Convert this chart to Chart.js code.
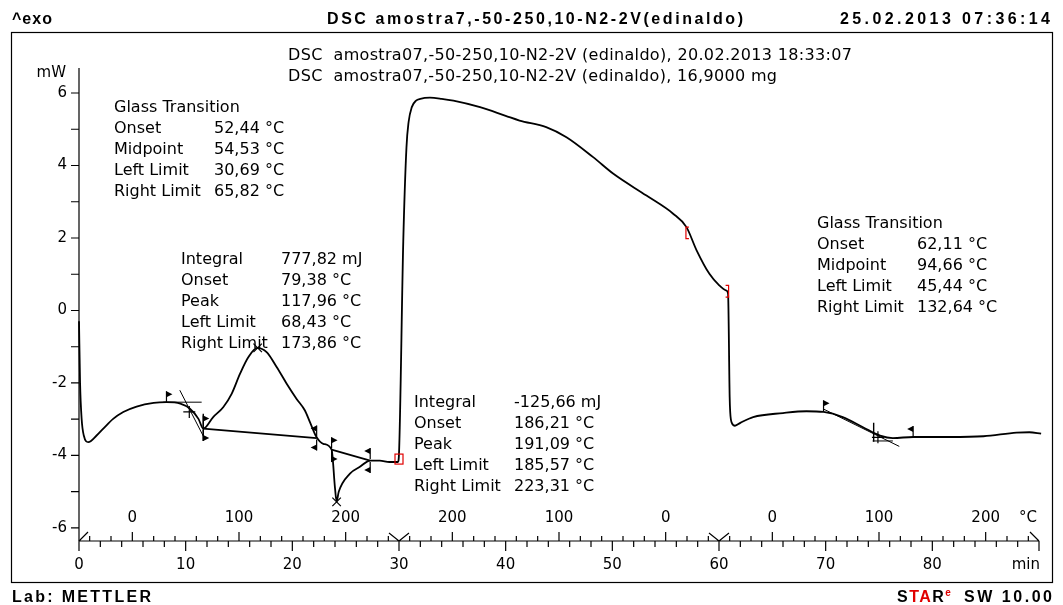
<!DOCTYPE html>
<html>
<head>
<meta charset="utf-8">
<script src="https://cdn.jsdelivr.net/npm/chart.js@4.4.0/dist/chart.umd.min.js"></script>
<style>
  html, body { margin: 0; background: #fff; }
  canvas { display: block; }
</style>
</head>
<body>
<canvas id="dsc" width="1063" height="605"></canvas>
<script>
// DSC curve: time in min, heat flow in mW (exo up)
const timeMin = [0, 0.1, 0.25, 0.45, 0.87, 1.65, 2.28, 3.2, 4.15, 5.4, 7.0, 8.2, 9.5, 10.4, 11.2, 11.65,
  12.58, 13.52, 14.31, 15.09, 15.87, 16.71, 17.59, 18.53, 19.47, 20.4, 21.18, 21.65, 22.28, 22.9, 23.68, 24.0, 24.15, 24.35,
  25.4, 26.3, 27.3, 28.2, 29.1, 29.9, 30.0, 30.4, 30.7, 30.9, 31.2, 31.6, 32.0, 32.9, 34.0, 35.1,
  37.6, 40.0, 41.3, 43.8, 45.7, 48.2, 50.1, 53.2, 55.7, 56.95, 57.9, 59.1, 60.0, 60.7, 60.85, 61.0,
  61.05, 61.2, 61.5, 62.0, 63.2, 66.0, 68.2, 69.8, 71.6, 73.5, 75.1, 76.3, 78.2, 81.6, 84.8, 87.9,
  89.1, 90.2];
const heatFlow = [-0.3, -2.0, -3.0, -3.45, -3.63, -3.45, -3.26, -2.99, -2.80, -2.65, -2.55, -2.53, -2.57, -2.71, -2.99, -3.26,
  -2.94, -2.67, -2.30, -1.75, -1.29, -1.03, -1.15, -1.56, -2.02, -2.44, -2.76, -3.08, -3.50, -3.68, -3.84, -4.9, -5.27, -5.0,
  -4.5, -4.32, -4.14, -4.14, -4.18, -4.18, -3.95, 1.9, 4.5, 5.2, 5.61, 5.79, 5.84, 5.87, 5.84, 5.79,
  5.61, 5.37, 5.24, 5.06, 4.78, 4.23, 3.77, 3.17, 2.67, 2.30, 1.66, 1.01, 0.7, 0.55, 0.46, -2.39,
  -2.8, -3.1, -3.18, -3.1, -2.94, -2.83, -2.78, -2.80, -2.94, -3.22, -3.45, -3.52, -3.49, -3.49, -3.47, -3.37,
  -3.36, -3.40];

// evaluation constructions (min, mW)
const gt1Horizontal = [[7.9, -2.53], [11.5, -2.53]];
const gt1Slope = [[9.45, -2.2], [11.8, -3.55]];
const gt1Limit = [[11.65, -2.85], [11.65, -3.6]];
const int1Baseline = [[11.65, -3.26], [22.28, -3.52]];
const int2Baseline = [[23.68, -3.84], [27.3, -4.14]];
const gt2Slope = [[69.8, -2.72], [76.9, -3.75]];
const gt2Horizontal = [[74.4, -3.6], [76.3, -3.6]];
const gt2Limit = [[74.5, -3.1], [74.5, -3.62]];
const peakMarks = [[24.15, -5.28], [16.75, -1.03]];
const midMarks = [[10.34, -2.8], [74.9, -3.5]];
// flags: [min, mW, dir(1 right/-1 left), side(1 above/-1 below)]
const flags = [[8.2, -2.53, 1, 1], [11.65, -3.2, 1, 1], [11.65, -3.3, 1, -1], [22.28, -3.48, -1, 1], [22.28, -3.56, -1, -1],
  [23.68, -3.8, 1, 1], [23.68, -3.88, 1, -1], [27.3, -4.1, -1, 1], [27.3, -4.18, -1, -1], [69.8, -2.78, 1, 1], [78.2, -3.49, -1, 1]];
const redBrackets = [[56.9, 2.30, 1.98, 1], [60.9, 0.69, 0.37, -1]];
const redBox = [30.0, -4.1];

// axes
const yTicks = [-6, -5, -4, -3, -2, -1, 0, 1, 2, 3, 4, 5, 6];
const xLabels = [0, 10, 20, 30, 40, 50, 60, 70, 80];
const tempAt = [5, 15, 25, 35, 45, 55, 65, 75, 85];
const tempLabels = ['0', '100', '200', '200', '100', '0', '0', '100', '200'];
const segmentBreaks = [30, 60];

const pts = a => a.map(p => ({ x: p[0], y: p[1] }));
const thin = (d, w) => ({ data: pts(d), showLine: true, borderColor: '#000', borderWidth: w || 1, pointRadius: 0 });
const FONT = '"DejaVu Sans", Verdana, sans-serif';
const BOLD = 'bold 16px "Liberation Sans", Arial, sans-serif';

function temperature(t) {
  if (t <= 30) return -50 + 10 * t;
  if (t <= 60) return 250 - 10 * (t - 30);
  return -50 + 10 * (t - 60);
}

function fitText(ctx, s, x, y, w, align) {
  ctx.letterSpacing = '0px';
  const m = ctx.measureText(s).width;
  const sp = (w - m) / (s.length - 1);
  ctx.letterSpacing = sp + 'px';
  ctx.textAlign = 'left';
  ctx.fillText(s, align === 'right' ? x - w : x, y);
  ctx.letterSpacing = '0px';
}

const decor = {
  id: 'decor',
  beforeDraw(chart) {
    const c = chart.ctx;
    c.save();
    c.fillStyle = '#fff';
    c.fillRect(0, 0, chart.width, chart.height);
    c.restore();
  },
  afterDraw(chart) {
    const c = chart.ctx, xs = chart.scales.x, ys = chart.scales.y;
    const x0 = xs.getPixelForValue(0), x90 = xs.getPixelForValue(90);
    const yb = chart.chartArea.bottom, yt = chart.chartArea.top;
    c.save();
    c.strokeStyle = '#000';
    c.fillStyle = '#000';
    c.lineWidth = 1.2;
    // frame
    c.strokeRect(11.5, 32.5, 1041, 550);
    // y axis
    c.beginPath();
    c.moveTo(x0, yt); c.lineTo(x0, yb);
    yTicks.forEach(v => { const p = ys.getPixelForValue(v); c.moveTo(x0 - 8, p); c.lineTo(x0, p); });
    c.stroke();
    c.font = '15px ' + FONT;
    c.textAlign = 'right'; c.textBaseline = 'middle';
    yTicks.filter(v => v % 2 === 0).forEach(v => c.fillText(String(v), x0 - 12, ys.getPixelForValue(v)));
    c.fillText('mW', x0 - 13, ys.getPixelForValue(6) - 20);
    // x axis
    c.beginPath();
    c.moveTo(x0, yb); c.lineTo(x90, yb);
    for (let t = 0; t <= 90; t += 2) {
      const p = xs.getPixelForValue(t);
      c.moveTo(p, yb); c.lineTo(p, yb + (t % 10 === 0 ? 10 : 6));
    }
    for (let t = 1; t < 90; t += 2) {
      const p = xs.getPixelForValue(t);
      c.moveTo(p, yb); c.lineTo(p, yb - (temperature(t) % 100 === 0 ? 9 : 5));
    }
    c.moveTo(x0, yb); c.lineTo(x0 + 9, yb - 9);
    c.moveTo(x90, yb); c.lineTo(x90 - 9, yb - 9);
    segmentBreaks.forEach(t => {
      const p = xs.getPixelForValue(t);
      c.moveTo(p - 10, yb - 8); c.lineTo(p, yb); c.lineTo(p + 10, yb - 8);
    });
    c.stroke();
    c.textAlign = 'center';
    xLabels.forEach(t => c.fillText(String(t), xs.getPixelForValue(t), yb + 24));
    tempAt.forEach((t, i) => c.fillText(tempLabels[i], xs.getPixelForValue(t), yb - 23));
    c.textAlign = 'right';
    c.fillText('min', x90 + 1, yb + 24);
    c.fillText('°C', x90 - 2, yb - 23);

    // flags
    flags.forEach(f => {
      const px = xs.getPixelForValue(f[0]), py = ys.getPixelForValue(f[1]);
      const top = py - f[3] * 11;
      c.beginPath(); c.moveTo(px, py); c.lineTo(px, top); c.stroke();
      c.beginPath();
      c.moveTo(px, top); c.lineTo(px + f[2] * 6, top + f[3] * 3); c.lineTo(px, top + f[3] * 6);
      c.closePath(); c.fill();
    });
    // red evaluation limits
    c.strokeStyle = '#e00000';
    c.lineWidth = 1.2;
    redBrackets.forEach(b => {
      const px = xs.getPixelForValue(b[0]), p1 = ys.getPixelForValue(b[1]), p2 = ys.getPixelForValue(b[2]);
      c.beginPath();
      c.moveTo(px + b[3] * 3, p1); c.lineTo(px, p1); c.lineTo(px, p2); c.lineTo(px + b[3] * 3, p2);
      c.stroke();
    });
    const bx = xs.getPixelForValue(redBox[0]), by = ys.getPixelForValue(redBox[1]);
    c.strokeRect(bx - 4, by - 5, 8, 10);

    // text blocks
    c.fillStyle = '#000';
    c.textAlign = 'left'; c.textBaseline = 'middle';
    c.font = '16px ' + FONT;
    fitText(c, 'DSC  amostra07,-50-250,10-N2-2V (edinaldo), 20.02.2013 18:33:07', 288, 56, 564);
    fitText(c, 'DSC  amostra07,-50-250,10-N2-2V (edinaldo), 16,9000 mg', 288, 77, 489);
    const block = (x, y, rows) => rows.forEach((r, i) => {
      c.fillText(r[0], x, y + i * 21);
      if (r[1]) c.fillText(r[1], x + 100, y + i * 21);
    });
    block(114, 108, [['Glass Transition'], ['Onset', '52,44 °C'], ['Midpoint', '54,53 °C'], ['Left Limit', '30,69 °C'], ['Right Limit', '65,82 °C']]);
    block(181, 260, [['Integral', '777,82 mJ'], ['Onset', '79,38 °C'], ['Peak', '117,96 °C'], ['Left Limit', '68,43 °C'], ['Right Limit', '173,86 °C']]);
    block(414, 403, [['Integral', '-125,66 mJ'], ['Onset', '186,21 °C'], ['Peak', '191,09 °C'], ['Left Limit', '185,57 °C'], ['Right Limit', '223,31 °C']]);
    block(817, 224, [['Glass Transition'], ['Onset', '62,11 °C'], ['Midpoint', '94,66 °C'], ['Left Limit', '45,44 °C'], ['Right Limit', '132,64 °C']]);

    // header and footer
    c.font = BOLD;
    fitText(c, '^exo', 12, 20, 40);
    fitText(c, 'DSC amostra7,-50-250,10-N2-2V(edinaldo)', 327, 20, 416);
    fitText(c, '25.02.2013 07:36:14', 1050, 20, 210, 'right');
    fitText(c, 'Lab: METTLER', 12, 598, 139);
    // STARe SW 10.00
    const parts = [['S', '#000'], ['TA', '#e00000'], ['R', '#000']];
    let sx = 897;
    c.letterSpacing = '1.5px';
    parts.forEach(p => { c.fillStyle = p[1]; c.fillText(p[0], sx, 598); sx += c.measureText(p[0]).width; });
    c.letterSpacing = '0px';
    c.font = 'bold 10px "Liberation Sans", Arial, sans-serif';
    c.fillStyle = '#e00000';
    c.fillText('e', sx, 593);
    c.font = BOLD;
    c.fillStyle = '#000';
    fitText(c, 'SW 10.00', 1052, 598, 88, 'right');
    c.restore();
  }
};

new Chart(document.getElementById('dsc'), {
  type: 'scatter',
  data: {
    datasets: [
      {
        data: timeMin.map((t, i) => ({ x: t, y: heatFlow[i] })),
        showLine: true, borderColor: '#000', borderWidth: 1.8, pointRadius: 0,
        cubicInterpolationMode: 'monotone', clip: false
      },
      thin(gt1Horizontal), thin(gt1Slope), thin(gt1Limit, 1.4),
      thin(int1Baseline, 1.8), thin(int2Baseline, 1.8),
      thin(gt2Slope), thin(gt2Horizontal), thin(gt2Limit, 1.4),
      { data: pts(peakMarks), pointStyle: 'crossRot', pointRadius: 6, borderColor: '#000', borderWidth: 1.2 },
      { data: pts(midMarks), pointStyle: 'cross', pointRadius: 6, borderColor: '#000', borderWidth: 1.2 }
    ]
  },
  options: {
    responsive: false,
    devicePixelRatio: 1,
    animation: false,
    layout: { padding: { left: 79, right: 24, top: 68, bottom: 64 } },
    plugins: { legend: { display: false }, tooltip: { enabled: false } },
    scales: {
      x: { type: 'linear', min: 0, max: 90, display: false },
      y: { type: 'linear', min: -6.36, max: 6.69, display: false }
    }
  },
  plugins: [decor]
});
</script>
</body>
</html>
